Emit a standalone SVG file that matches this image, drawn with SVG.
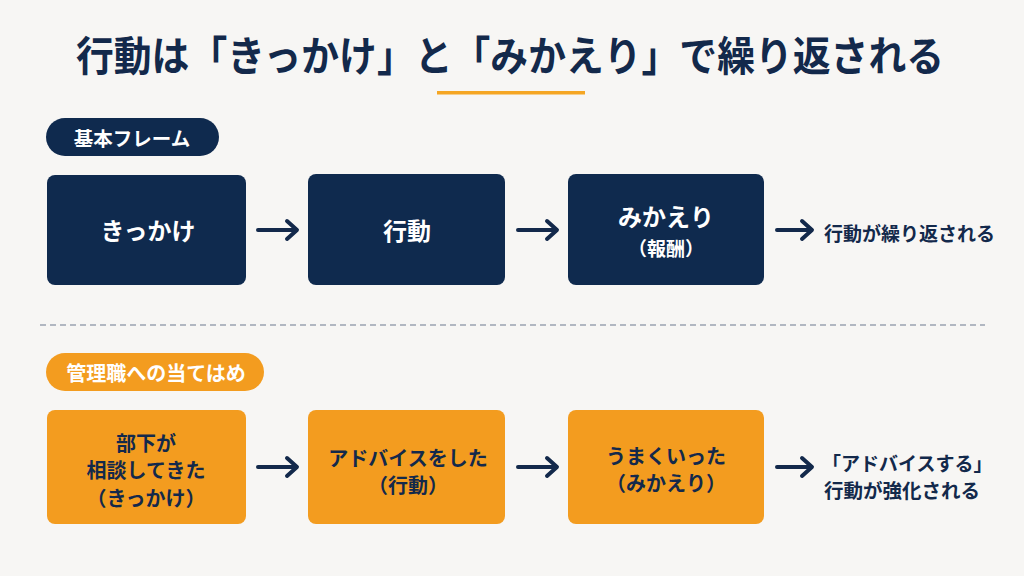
<svg xmlns="http://www.w3.org/2000/svg" width="1024" height="576" viewBox="0 0 1024 576">
<defs>
<style>
text{font-family:"Noto Sans CJK JP","Noto Sans",sans-serif;font-weight:700;text-anchor:middle;dominant-baseline:central}
.navy{fill:#0f2a4e}
.orange{fill:#f39c1f}
.wt{fill:#ffffff}
.dk{fill:#13294b}
.st{text-anchor:start}
.arrow{stroke:#13294b;stroke-width:4;fill:none;stroke-linecap:round;stroke-linejoin:round}
</style>
</defs>
<rect width="1024" height="576" fill="#f7f6f4"/>
<g id="title">
<text x="510" y="53" font-size="41" class="dk" textLength="868" lengthAdjust="spacingAndGlyphs">行動は「きっかけ」と「みかえり」で繰り返される</text>
<rect x="437" y="91" width="148" height="3.5" fill="#f5a623"/>
</g>
<g id="label-basic">
<rect x="46" y="118" width="173" height="38" rx="19" class="navy"/>
<text x="132" y="137" font-size="19.5" class="wt">基本フレーム</text>
</g>
<g id="node-kikkake">
<rect x="47" y="175" width="199" height="110" rx="8" class="navy"/>
<text x="148" y="229" font-size="24" class="wt">きっかけ</text>
</g>
<g id="node-koudou">
<rect x="308" y="174" width="197" height="111" rx="8" class="navy"/>
<text x="407" y="229" font-size="24" class="wt">行動</text>
</g>
<g id="node-mikaeri">
<rect x="568" y="174" width="196" height="111" rx="8" class="navy"/>
<text x="666" y="215" font-size="24" class="wt">みかえり</text>
<text x="666" y="247" font-size="19" class="wt">（報酬）</text>
</g>
<g id="result-top">
<text x="824" y="232" font-size="19" class="dk st">行動が繰り返される</text>
</g>
<line x1="40" y1="325" x2="985" y2="325" stroke="#9aa3b0" stroke-width="1.5" stroke-dasharray="6 4"/>
<g id="label-apply">
<rect x="46" y="353" width="218" height="38" rx="19" class="orange"/>
<text x="156" y="372" font-size="20" class="wt">管理職への当てはめ</text>
</g>
<g id="node-soudan">
<rect x="47" y="410" width="199" height="114" rx="8" class="orange"/>
<text x="146" y="442" font-size="20" class="dk">部下が</text>
<text x="146" y="469" font-size="20" class="dk">相談してきた</text>
<text x="146" y="497" font-size="20" class="dk">（きっかけ）</text>
</g>
<g id="node-advice">
<rect x="308" y="410" width="197" height="114" rx="8" class="orange"/>
<text x="408" y="457" font-size="20" class="dk">アドバイスをした</text>
<text x="408" y="484" font-size="20" class="dk">（行動）</text>
</g>
<g id="node-umaku">
<rect x="568" y="410" width="196" height="114" rx="8" class="orange"/>
<text x="666" y="455" font-size="20" class="dk">うまくいった</text>
<text x="666" y="482" font-size="20" class="dk">（みかえり）</text>
</g>
<g id="result-bottom">
<text x="822" y="462" font-size="19" class="dk st">「アドバイスする」</text>
<text x="824" y="489" font-size="19.5" class="dk st">行動が強化される</text>
</g>
<g id="connectors">
<path class="arrow" d="M258,230 H296 M287,221 L297,230 L287,239"/>
<path class="arrow" d="M518,230 H556 M547,221 L557,230 L547,239"/>
<path class="arrow" d="M777,230 H811 M802,221 L812,230 L802,239"/>
<path class="arrow" d="M258,467 H296 M287,458 L297,467 L287,476"/>
<path class="arrow" d="M518,467 H556 M547,458 L557,467 L547,476"/>
<path class="arrow" d="M777,467 H811 M802,458 L812,467 L802,476"/>
</g>
</svg>
